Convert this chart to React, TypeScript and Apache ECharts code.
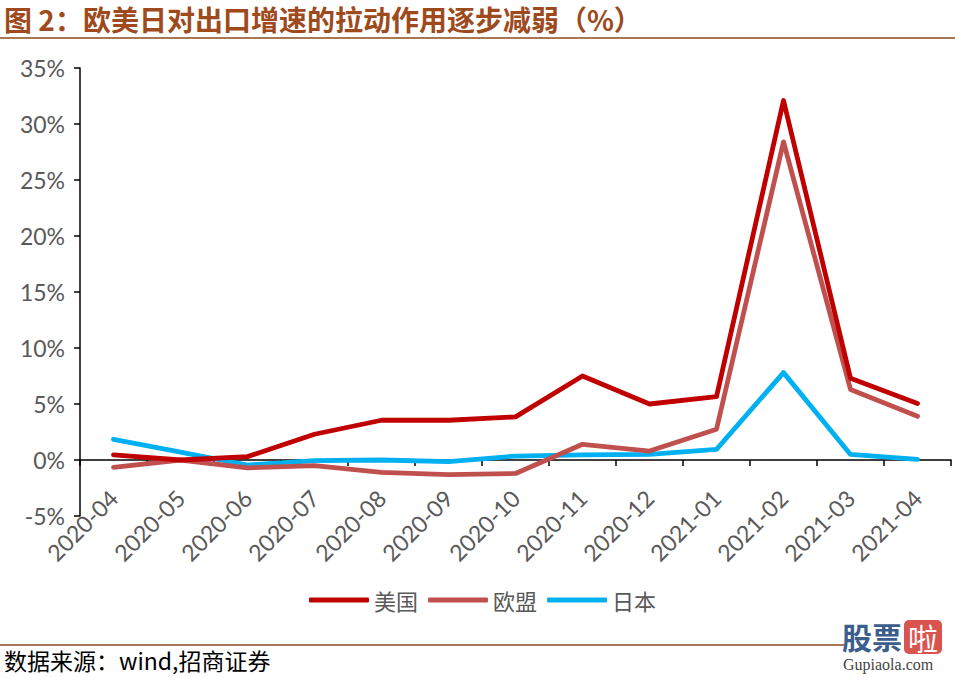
import React, { useEffect, useRef } from "react";
import * as echarts from "echarts";

const categories = [
  "2020-04", "2020-05", "2020-06", "2020-07", "2020-08", "2020-09", "2020-10",
  "2020-11", "2020-12", "2021-01", "2021-02", "2021-03", "2021-04",
];
const usValues = [0.45, 0.0, 0.3, 2.3, 3.55, 3.55, 3.85, 7.5, 5.0, 5.65, 32.1, 7.3, 5.05];
const euValues = [-0.65, 0.0, -0.7, -0.5, -1.1, -1.3, -1.2, 1.4, 0.8, 2.75, 28.4, 6.3, 3.9];
const jpValues = [1.85, 0.7, -0.45, -0.05, 0.0, -0.15, 0.35, 0.45, 0.5, 0.95, 7.8, 0.5, 0.05];
const seriesNames = ["美国", "欧盟", "日本"];
const seriesColors = ["#C00000", "#C0504D", "#00B0F0"];
const yTicks = { min: -5, max: 35, interval: 5 };
const titleText = "图 2：欧美日对出口增速的拉动作用逐步减弱（%）";
const sourceText = "数据来源：wind,招商证券";

export default function App() {
  const ref = useRef<HTMLDivElement>(null);
  useEffect(() => {
    if (!ref.current) return;
    const chart = echarts.init(ref.current, null, { renderer: "svg" });
    const numFont = "Lato, 'Noto Sans CJK SC', sans-serif";
    const cjkFont = "'Noto Sans CJK SC', sans-serif";
    const dataSets = [usValues, euValues, jpValues];
    chart.setOption({
      animation: false,
      backgroundColor: "#ffffff",
      grid: { left: 80, right: 4, top: 68, bottom: 161, containLabel: false },
      legend: {
        left: 304,
        top: 584,
        itemWidth: 60,
        itemHeight: 5,
        itemGap: 10,
        icon: "roundRect",
        textStyle: { color: "#595959", fontSize: 22, fontFamily: cjkFont },
        data: seriesNames,
      },
      xAxis: {
        type: "category",
        data: categories,
        boundaryGap: true,
        axisLine: { onZero: true, lineStyle: { color: "#000", width: 1.5 } },
        axisTick: { show: true, length: 6, alignWithLabel: false, interval: 0, lineStyle: { color: "#000", width: 1.5 } },
        axisLabel: {
          interval: 0,
          rotate: 45,
          margin: -22,
          color: "#595959",
          fontSize: 23,
          fontFamily: numFont,
        },
        splitLine: { show: false },
      },
      yAxis: {
        type: "value",
        min: yTicks.min,
        max: yTicks.max,
        interval: yTicks.interval,
        axisLine: { show: true, lineStyle: { color: "#000", width: 1.5 } },
        axisTick: { show: true, length: 6, lineStyle: { color: "#000", width: 1.5 } },
        axisLabel: {
          formatter: "{value}%",
          color: "#595959",
          fontSize: 23,
          fontFamily: numFont,
          margin: 15,
        },
        splitLine: { show: false },
      },
      series: seriesNames.map((name, i) => ({
        name,
        type: "line",
        data: dataSets[i],
        symbol: "none",
        color: seriesColors[i],
        lineStyle: { color: seriesColors[i], width: 4.8, join: "round", cap: "round" },
        z: 3 - i,
      })),
      graphic: [
        {
          type: "text",
          x: 4,
          y: 5,
          style: {
            text: titleText,
            fill: "#9E4A1C",
            fontSize: 28,
            fontWeight: "bold",
            fontFamily: cjkFont,
          },
        },
        {
          type: "line",
          shape: { x1: 0, y1: 38, x2: 955, y2: 38 },
          style: { stroke: "#8B4A1E", lineWidth: 1.5 },
        },
        {
          type: "line",
          shape: { x1: 0, y1: 645, x2: 845, y2: 645 },
          style: { stroke: "#8B4A1E", lineWidth: 1.5 },
        },
        {
          type: "text",
          x: 4,
          y: 648,
          style: {
            text: sourceText,
            fill: "#000",
            fontSize: 23,
            lineHeight: 24,
            fontFamily: cjkFont,
          },
        },
        {
          type: "text",
          x: 842,
          y: 621,
          style: {
            text: "股票",
            fill: "#3B5E8C",
            fontSize: 30,
            fontWeight: "bold",
            fontFamily: cjkFont,
          },
        },
        {
          type: "rect",
          shape: { x: 904, y: 620, width: 38, height: 34, r: 5 },
          style: { fill: "#D9534F" },
        },
        {
          type: "text",
          x: 908,
          y: 622,
          style: {
            text: "啦",
            fill: "#ffffff",
            fontSize: 30,
            fontFamily: cjkFont,
          },
        },
        {
          type: "text",
          x: 843,
          y: 656,
          style: {
            text: "Gupiaola.com",
            fill: "#444",
            fontSize: 16,
            fontFamily: "'Liberation Serif', serif",
          },
        },
      ],
    });
    return () => chart.dispose();
  }, []);
  return (
    <div
      ref={ref}
      style={{ position: "fixed", left: 0, top: 0, width: 955, height: 677 }}
    />
  );
}
